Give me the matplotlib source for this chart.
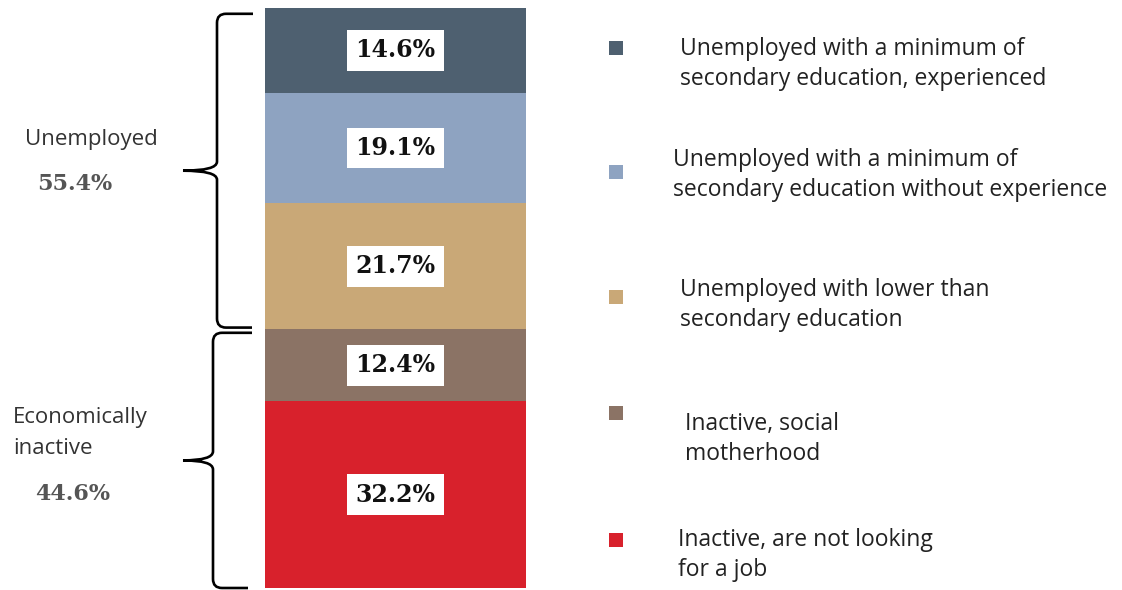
import matplotlib
matplotlib.use("Agg")
import matplotlib.pyplot as plt
from matplotlib.path import Path
from matplotlib.patches import PathPatch, Rectangle
import numpy as np

# Shares of the population groups (top to bottom of the stacked bar)
categories = [
    "Unemployed with a minimum of\nsecondary education, experienced",
    "Unemployed with a minimum of\nsecondary education without experience",
    "Unemployed with lower than\nsecondary education",
    "Inactive, social\nmotherhood",
    "Inactive, are not looking\nfor a job",
]
shares = [14.6, 19.1, 21.7, 12.4, 32.2]
colors = ["#4e6070", "#8ea3c1", "#c9a877", "#8b7365", "#d8212c"]

groups = ["Unemployed", "Economically\ninactive"]
group_shares = [55.4, 44.6]

W, H = 1122, 590
fig = plt.figure(figsize=(W / 100, H / 100), dpi=100)
fig.patch.set_facecolor("white")

# Stacked bar axes (one column, 0..100 % from top to bottom)
bx0, bx1, by0, by1 = 265, 526, 8, 588
ax = fig.add_axes([bx0 / W, (H - by1) / H, (bx1 - bx0) / W, (by1 - by0) / H])
ax.set_xlim(0, 1)
ax.set_ylim(100, 0)
ax.axis("off")

bottoms = np.concatenate([[0], np.cumsum(shares)[:-1]])
ax.bar(0.5, shares, bottom=bottoms, width=1.0, color=colors, edgecolor="none")

for v, b in zip(shares, bottoms):
    ax.text(0.5, b + v / 2, f"{v:.1f}%", ha="center", va="center",
            fontsize=17, fontweight="bold", family="DejaVu Serif", color="#111111",
            bbox=dict(boxstyle="square,pad=0.35", facecolor="white", edgecolor="none"))

# Curly braces grouping the segments
px = 1.0 / (bx1 - bx0)          # one pixel in x (axes data units)
py = 100.0 / (by1 - by0)        # one pixel in y (axes data units)


def brace(y0, y1, x_line, x_tip0, x_tip1, x_point):
    ymid = (y0 + y1) / 2
    r = 9 * px
    ry = 9 * py
    verts = [
        (x_tip0, y0), (x_line + r, y0),
        (x_line, y0), (x_line, y0 + ry),
        (x_line, ymid - ry),
        (x_line, ymid), (x_point, ymid),
        (x_line, ymid), (x_line, ymid + ry),
        (x_line, y1 - ry),
        (x_line, y1), (x_line + r, y1),
        (x_tip1, y1),
    ]
    codes = [Path.MOVETO, Path.LINETO,
             Path.CURVE3, Path.CURVE3,
             Path.LINETO,
             Path.CURVE3, Path.CURVE3,
             Path.CURVE3, Path.CURVE3,
             Path.LINETO,
             Path.CURVE3, Path.CURVE3,
             Path.LINETO]
    ax.add_patch(PathPatch(Path(verts, codes), fill=False, lw=1.9,
                           edgecolor="black", clip_on=False, capstyle="butt",
                           joinstyle="miter"))


split = group_shares[0]
brace(1.0, split - 0.3, (217 - bx0) * px, (253 - bx0) * px, (252 - bx0) * px,
      (183 - bx0) * px)
brace(split + 0.6, 100.0, (213 - bx0) * px, (252 - bx0) * px, (248 - bx0) * px,
      (183 - bx0) * px)

# Group labels on the left
ov = fig.add_axes([0, 0, 1, 1])
ov.set_xlim(0, W)
ov.set_ylim(H, 0)
ov.axis("off")
ov.patch.set_alpha(0)

ov.text(25, 139, groups[0], ha="left", va="center", fontsize=16,
        family="Open Sans", color="#333333")
ov.text(37, 184, f"{group_shares[0]:.1f}%", ha="left", va="center", fontsize=16,
        family="DejaVu Serif", fontweight="bold", color="#555555")
ov.text(13, 433, groups[1], ha="left", va="center", fontsize=16,
        family="Open Sans", color="#333333", linespacing=1.6)
ov.text(35, 494, f"{group_shares[1]:.1f}%", ha="left", va="center", fontsize=16,
        family="DejaVu Serif", fontweight="bold", color="#555555")

# Legend entries
legend_rows = [(48, 680, 64), (172, 673, 175), (297, 680, 305), (413, 685, 439), (540, 678, 555)]
for (sq_y, tx, ty), lab, c in zip(legend_rows, categories, colors):
    ov.add_patch(Rectangle((609, sq_y - 7), 14, 14, facecolor=c, edgecolor="none"))
    ov.text(tx, ty, lab, ha="left", va="center", fontsize=16.5,
            family="Open Sans", color="#222222", linespacing=1.35)

fig.savefig("out.png", dpi=100, facecolor="white")
